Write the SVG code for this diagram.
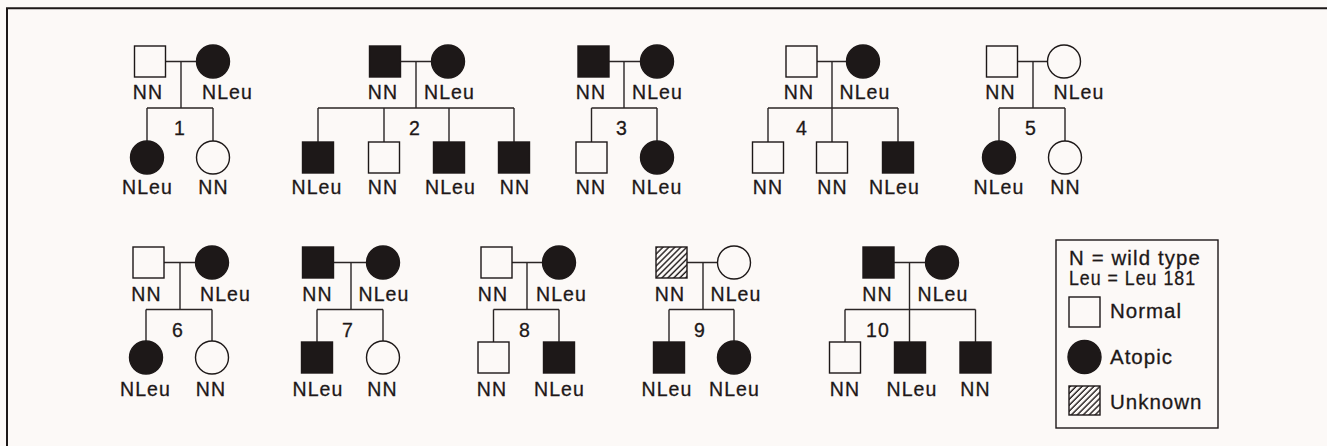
<svg xmlns="http://www.w3.org/2000/svg" width="1327" height="446" viewBox="0 0 1327 446">
  <defs>
    <pattern id="hatch" patternUnits="userSpaceOnUse" width="4.2" height="4.2" patternTransform="rotate(45)">
      <rect width="4.2" height="4.2" fill="#fcf9f7"/>
      <line x1="1" y1="0" x2="1" y2="4.2" stroke="#1d1818" stroke-width="1.4"/>
    </pattern>
    <style>
      .bg { fill: #fcf9f7; }
      .frame { fill: none; stroke: #1d1818; stroke-width: 2; }
      .open { fill: #fcf9f7; stroke: #1d1818; stroke-width: 1.4; }
      .aff { fill: #1d1818; stroke: #1d1818; stroke-width: 1.4; }
      .unk { fill: url(#hatch); stroke: #1d1818; stroke-width: 1.4; }
      .conn path { fill: none; stroke: #2a2525; stroke-width: 1.4; }
      text { font-family: "Liberation Sans", Arial, sans-serif; font-size: 19.5px; letter-spacing: 1.1px; fill: #1d1818; stroke: #1d1818; stroke-width: 0.3px; text-anchor: middle; }
      .lg text { text-anchor: start; }
      .lg .big { font-size: 20.5px; letter-spacing: 1px; }
    </style>
  </defs>

  <rect class="bg" width="1327" height="446"/>
  <path class="frame" d="M7,446 V8.3 H1327"/>

  <!-- lines of descent: couple lines, drops, sibship lines -->
  <g id="connectors" class="conn">
    <!-- family 1 -->
    <path d="M165.5,61.5 H196.5 M181,61.5 V108 M147,108 H213 M147,108 V141 M213,108 V141"/>
    <!-- family 2 -->
    <path d="M400.5,61.5 H431.5 M416,61.5 V108 M318,108 H514 M318,108 V142 M384,108 V142 M449,108 V142 M514,108 V142"/>
    <!-- family 3 -->
    <path d="M609,61.5 H640.5 M624,61.5 V108 M591.5,108 H657 M591.5,108 V142 M657,108 V141"/>
    <!-- family 4 -->
    <path d="M817,61.5 H846.5 M832,61.5 V142 M768,108 H898 M768,108 V142 M898,108 V142"/>
    <!-- family 5 -->
    <path d="M1017.5,61.5 H1047.5 M1033,61.5 V108 M999,108 H1065 M999,108 V141 M1065,108 V141"/>
    <!-- family 6 -->
    <path d="M164,262.5 H195.5 M180,262.5 V309.5 M146,309.5 H212 M146,309.5 V341 M212,309.5 V341"/>
    <!-- family 7 -->
    <path d="M333.5,262.5 H366.5 M351,262.5 V309.5 M317,309.5 H383 M317,309.5 V342 M383,309.5 V341"/>
    <!-- family 8 -->
    <path d="M512,262.5 H542.5 M527,262.5 V309.5 M493.5,309.5 H559 M493.5,309.5 V342 M559,309.5 V342"/>
    <!-- family 9 -->
    <path d="M687,262.5 H717.5 M703,262.5 V309.5 M669,309.5 H734 M669,309.5 V342 M734,309.5 V341"/>
    <!-- family 10 -->
    <path d="M894,262.5 H925.5 M909.5,262.5 V342 M845,309.5 H975.5 M845,309.5 V342 M975.5,309.5 V342"/>
  </g>

  <!-- family 1 -->
  <g id="f1-father"><rect class="open" x="134.5" y="46" width="31" height="31"/><text x="148" y="99">NN</text></g>
  <g id="f1-mother"><circle class="aff" cx="213" cy="61.5" r="16.5"/><text x="227.5" y="99">NLeu</text></g>
  <g id="f1-child1"><circle class="aff" cx="147" cy="157.5" r="16.5"/><text x="147.5" y="194">NLeu</text></g>
  <g id="f1-child2"><circle class="open" cx="213" cy="157.5" r="16.5"/><text x="213.5" y="194">NN</text></g>
  <g id="f1-number"><text x="180" y="134.5">1</text></g>

  <!-- family 2 -->
  <g id="f2-father"><rect class="aff" x="369.5" y="46" width="31" height="31"/><text x="383" y="99">NN</text></g>
  <g id="f2-mother"><circle class="aff" cx="448" cy="61.5" r="16.5"/><text x="449.5" y="99">NLeu</text></g>
  <g id="f2-child1"><rect class="aff" x="302.5" y="142" width="31" height="31"/><text x="317" y="194">NLeu</text></g>
  <g id="f2-child2"><rect class="open" x="368.5" y="142" width="31" height="31"/><text x="383" y="194">NN</text></g>
  <g id="f2-child3"><rect class="aff" x="433.5" y="142" width="31" height="31"/><text x="450.5" y="194">NLeu</text></g>
  <g id="f2-child4"><rect class="aff" x="498.5" y="142" width="31" height="31"/><text x="515" y="194">NN</text></g>
  <g id="f2-number"><text x="415" y="134.5">2</text></g>

  <!-- family 3 -->
  <g id="f3-father"><rect class="aff" x="578" y="46" width="31" height="31"/><text x="591" y="99">NN</text></g>
  <g id="f3-mother"><circle class="aff" cx="657" cy="61.5" r="16.5"/><text x="657.5" y="99">NLeu</text></g>
  <g id="f3-child1"><rect class="open" x="576" y="142" width="31" height="31"/><text x="591" y="194">NN</text></g>
  <g id="f3-child2"><circle class="aff" cx="657" cy="157.5" r="16.5"/><text x="657" y="194">NLeu</text></g>
  <g id="f3-number"><text x="622" y="134.5">3</text></g>

  <!-- family 4 -->
  <g id="f4-father"><rect class="open" x="786" y="46" width="31" height="31"/><text x="799" y="99">NN</text></g>
  <g id="f4-mother"><circle class="aff" cx="863" cy="61.5" r="16.5"/><text x="865" y="99">NLeu</text></g>
  <g id="f4-child1"><rect class="open" x="752.5" y="142" width="31" height="31"/><text x="768" y="194">NN</text></g>
  <g id="f4-child2"><rect class="open" x="816.5" y="142" width="31" height="31"/><text x="832.5" y="194">NN</text></g>
  <g id="f4-child3"><rect class="aff" x="882.5" y="142" width="31" height="31"/><text x="894.5" y="194">NLeu</text></g>
  <g id="f4-number"><text x="802" y="134.5">4</text></g>

  <!-- family 5 -->
  <g id="f5-father"><rect class="open" x="986.5" y="46" width="31" height="31"/><text x="1000.5" y="99">NN</text></g>
  <g id="f5-mother"><circle class="open" cx="1064" cy="61.5" r="16.5"/><text x="1079" y="99">NLeu</text></g>
  <g id="f5-child1"><circle class="aff" cx="999" cy="157.5" r="16.5"/><text x="999" y="194">NLeu</text></g>
  <g id="f5-child2"><circle class="open" cx="1065" cy="157.5" r="16.5"/><text x="1065.5" y="194">NN</text></g>
  <g id="f5-number"><text x="1031" y="134.5">5</text></g>

  <!-- family 6 -->
  <g id="f6-father"><rect class="open" x="133" y="247" width="31" height="31"/><text x="146.5" y="301">NN</text></g>
  <g id="f6-mother"><circle class="aff" cx="212" cy="262.5" r="16.5"/><text x="225.5" y="301">NLeu</text></g>
  <g id="f6-child1"><circle class="aff" cx="146" cy="357.5" r="16.5"/><text x="145.5" y="396">NLeu</text></g>
  <g id="f6-child2"><circle class="open" cx="212" cy="357.5" r="16.5"/><text x="211" y="396">NN</text></g>
  <g id="f6-number"><text x="178" y="337">6</text></g>

  <!-- family 7 -->
  <g id="f7-father"><rect class="aff" x="302.5" y="247" width="31" height="31"/><text x="317.5" y="301">NN</text></g>
  <g id="f7-mother"><circle class="aff" cx="383" cy="262.5" r="16.5"/><text x="384" y="301">NLeu</text></g>
  <g id="f7-child1"><rect class="aff" x="301.5" y="342" width="31" height="31"/><text x="318" y="396">NLeu</text></g>
  <g id="f7-child2"><circle class="open" cx="383" cy="357.5" r="16.5"/><text x="382.5" y="396">NN</text></g>
  <g id="f7-number"><text x="348" y="337">7</text></g>

  <!-- family 8 -->
  <g id="f8-father"><rect class="open" x="481" y="247" width="31" height="31"/><text x="493" y="301">NN</text></g>
  <g id="f8-mother"><circle class="aff" cx="559" cy="262.5" r="16.5"/><text x="561.5" y="301">NLeu</text></g>
  <g id="f8-child1"><rect class="open" x="478" y="342" width="31" height="31"/><text x="492" y="396">NN</text></g>
  <g id="f8-child2"><rect class="aff" x="543.5" y="342" width="31" height="31"/><text x="559.5" y="396">NLeu</text></g>
  <g id="f8-number"><text x="525" y="337">8</text></g>

  <!-- family 9 -->
  <g id="f9-father"><rect class="unk" x="656" y="247" width="31" height="31"/><text x="670" y="301">NN</text></g>
  <g id="f9-mother"><circle class="open" cx="734" cy="262.5" r="16.5"/><text x="736" y="301">NLeu</text></g>
  <g id="f9-child1"><rect class="aff" x="653.5" y="342" width="31" height="31"/><text x="667" y="396">NLeu</text></g>
  <g id="f9-child2"><circle class="aff" cx="734" cy="357.5" r="16.5"/><text x="734.5" y="396">NLeu</text></g>
  <g id="f9-number"><text x="700" y="337">9</text></g>

  <!-- family 10 -->
  <g id="f10-father"><rect class="aff" x="863" y="247" width="31" height="31"/><text x="877.5" y="301">NN</text></g>
  <g id="f10-mother"><circle class="aff" cx="942" cy="262.5" r="16.5"/><text x="943" y="301">NLeu</text></g>
  <g id="f10-child1"><rect class="open" x="829.5" y="342" width="31" height="31"/><text x="845" y="396">NN</text></g>
  <g id="f10-child2"><rect class="aff" x="894.5" y="342" width="31" height="31"/><text x="912" y="396">NLeu</text></g>
  <g id="f10-child3"><rect class="aff" x="960" y="342" width="31" height="31"/><text x="975.5" y="396">NN</text></g>
  <g id="f10-number"><text x="878" y="337">10</text></g>

  <!-- key -->
  <g id="legend" class="lg">
    <rect class="open" x="1056" y="240" width="162" height="188"/>
    <text x="1069" y="265" textLength="132" lengthAdjust="spacingAndGlyphs">N = wild type</text>
    <text x="1069" y="285" textLength="127" lengthAdjust="spacingAndGlyphs">Leu = Leu 181</text>
    <rect class="open" x="1069" y="297" width="31" height="30"/>
    <text class="big" x="1110" y="318">Normal</text>
    <circle class="aff" cx="1084.5" cy="357" r="16.5"/>
    <text class="big" x="1110" y="364">Atopic</text>
    <rect class="unk" x="1069" y="386" width="31" height="29"/>
    <text class="big" x="1110" y="409">Unknown</text>
  </g>
</svg>
